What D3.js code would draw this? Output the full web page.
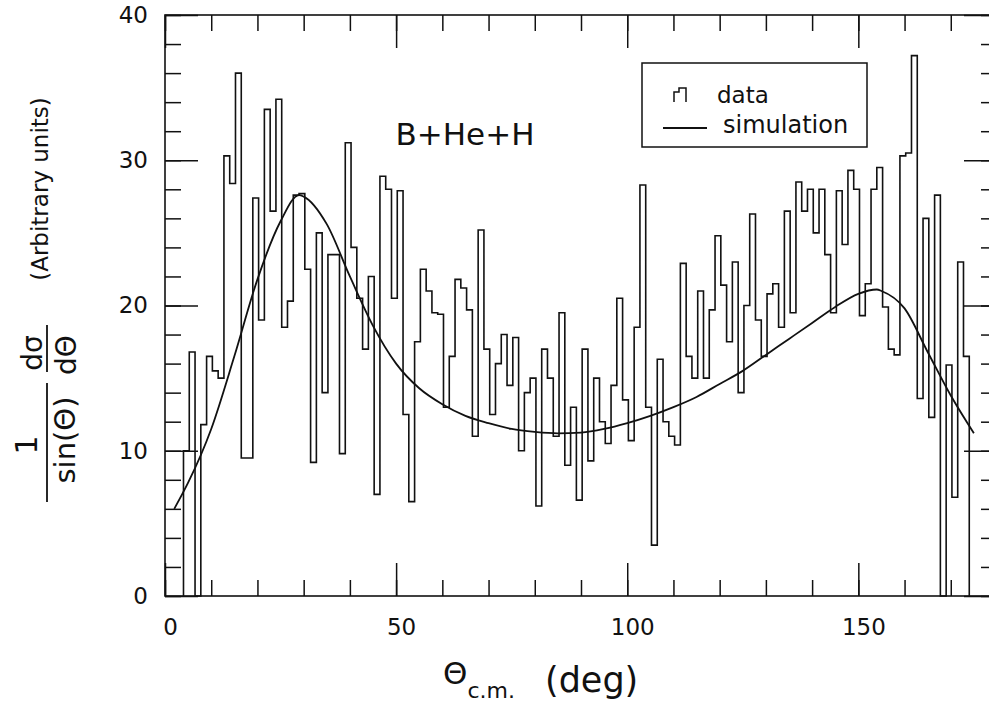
<!DOCTYPE html>
<html><head><meta charset="utf-8">
<script src="https://cdn.jsdelivr.net/npm/d3@7"></script>
<style>
html,body{margin:0;padding:0;background:#fff;}
svg{display:block;}
text{font-family:"DejaVu Sans",sans-serif;fill:#111;}
</style></head><body>
<svg id="chart" width="989" height="709"></svg>
<script>
// Angular distribution: measured histogram (1.25 deg bins) and simulation curve
const binStart = 4.0;
const binWidth = 1.25;
const dataCounts = [
  10, 16.8, 0, 11.8, 16.5, 15.5, 15, 30.3, 28.4, 36,
  9.5, 9.5, 27.4, 19, 33.5, 26.5, 34.2, 18.5, 20.3, 27.6,
  27.7, 22.5, 9.2, 25, 14, 23.5, 23.5, 9.8, 31.2, 24,
  20.5, 17, 22, 7, 28.9, 28, 20.5, 27.9, 12.5, 6.5,
  17.5, 22.5, 21, 19.5, 19.4, 13, 16.5, 21.8, 21.2, 19.7,
  11, 25.2, 17, 12.5, 16, 18, 14.5, 17.8, 10, 14,
  15, 6.2, 17, 15, 11, 19.5, 9, 13, 6.6, 17,
  9.3, 15, 12, 10.5, 14.5, 20.5, 13.5, 10.7, 18.5, 28.3,
  13, 3.5, 16.3, 12, 11, 10.4, 22.9, 16.5, 15, 21,
  15, 19.7, 24.8, 21.4, 17.5, 23, 14, 20, 26.3, 19,
  16.5, 20.8, 21.5, 18.5, 26.5, 19.5, 28.5, 26.5, 28, 25,
  28, 23.5, 19.5, 27.9, 24.2, 29.3, 28, 19.3, 21.5, 28,
  29.5, 19.9, 17, 16.6, 30.3, 30.5, 37.2, 13.6, 26, 12.3,
  27.6, 0, 15.9, 6.8, 23, 16.5
];
const simAngles = [2, 5, 10, 15, 20, 25, 29, 30, 35, 40, 45, 50, 55, 60, 65, 70, 75, 80, 85, 90,
  95, 100, 105, 110, 115, 120, 125, 130, 135, 140, 145, 150, 154, 155, 160, 165, 170, 175];
const simValues = [6.0, 7.8, 11.5, 16.5, 21.8, 25.8, 27.6, 27.5, 25.6, 22.0, 18.6, 16.0, 14.3, 13.2, 12.4, 11.9, 11.5, 11.3, 11.2, 11.25,
  11.5, 11.9, 12.4, 13.0, 13.7, 14.6, 15.5, 16.6, 17.7, 18.8, 19.9, 20.8, 21.1, 21.0, 19.8, 16.8, 13.8, 11.2];
const xTickLabels = [0, 50, 100, 150];
const yTickLabels = [0, 10, 20, 30, 40];
const xMinorTicks = d3.range(0, 181, 10);
const yMinorTicks = d3.range(0, 41, 2);

const svg = d3.select('#chart');
const x = d3.scaleLinear().domain([0, 180]).range([165, 997]);
const y = d3.scaleLinear().domain([0, 40]).range([596, 15]);
const ink = '#111';
const majorLen = 33, minorLen = 16;

// frame
svg.append('rect')
  .attr('x', x(0)).attr('y', y(40))
  .attr('width', x(180) - x(0)).attr('height', y(0) - y(40))
  .attr('fill', 'none').attr('stroke', ink).attr('stroke-width', 1.6);

function styleAxis(g) {
  g.select('.domain').remove();
  g.selectAll('line').attr('stroke', ink).attr('stroke-width', 1.5);
  g.selectAll('text').attr('fill', ink).attr('font-family', '"DejaVu Sans",sans-serif').attr('font-size', 23);
}

// bottom axis
svg.append('g').attr('transform', `translate(0,${y(0)})`)
  .call(d3.axisBottom(x).tickValues(xMinorTicks).tickSize(-minorLen).tickFormat(''))
  .call(styleAxis);
svg.append('g').attr('transform', `translate(0,${y(0)})`)
  .call(d3.axisBottom(x).tickValues(xTickLabels).tickSize(-majorLen).tickPadding(23).tickFormat(d3.format('d')))
  .call(styleAxis)
  .call(g => g.selectAll('text').attr('dx', 5));
// top axis
svg.append('g').attr('transform', `translate(0,${y(40)})`)
  .call(d3.axisTop(x).tickValues(xMinorTicks).tickSize(-minorLen).tickFormat(''))
  .call(styleAxis);
svg.append('g').attr('transform', `translate(0,${y(40)})`)
  .call(d3.axisTop(x).tickValues(xTickLabels).tickSize(-majorLen).tickFormat(''))
  .call(styleAxis);
// left axis
svg.append('g').attr('transform', `translate(${x(0)},0)`)
  .call(d3.axisLeft(y).tickValues(yMinorTicks).tickSize(-minorLen).tickFormat(''))
  .call(styleAxis);
svg.append('g').attr('transform', `translate(${x(0)},0)`)
  .call(d3.axisLeft(y).tickValues(yTickLabels).tickSize(-majorLen).tickPadding(17).tickFormat(d3.format('d')))
  .call(styleAxis);
// right axis
svg.append('g').attr('transform', `translate(${x(180)},0)`)
  .call(d3.axisRight(y).tickValues(yMinorTicks).tickSize(-minorLen).tickFormat(''))
  .call(styleAxis);
svg.append('g').attr('transform', `translate(${x(180)},0)`)
  .call(d3.axisRight(y).tickValues(yTickLabels).tickSize(-majorLen).tickFormat(''))
  .call(styleAxis);

// histogram outline
const edges = dataCounts.map((_, i) => binStart + i * binWidth);
const lastEdge = binStart + dataCounts.length * binWidth;
const histPts = [[edges[0], 0]]
  .concat(dataCounts.map((v, i) => [edges[i], v]))
  .concat([[lastEdge, dataCounts[dataCounts.length - 1]], [lastEdge, 0]]);
svg.append('path')
  .attr('d', d3.line().x(d => x(d[0])).y(d => y(d[1])).curve(d3.curveStepAfter)(histPts))
  .attr('fill', 'none').attr('stroke', ink).attr('stroke-width', 1.6);

// simulation curve
const simPts = simAngles.map((a, i) => [a, simValues[i]]);
svg.append('path')
  .attr('d', d3.line().x(d => x(d[0])).y(d => y(d[1])).curve(d3.curveMonotoneX)(simPts))
  .attr('fill', 'none').attr('stroke', ink).attr('stroke-width', 1.8);

// reaction label
svg.append('text').attr('x', 465).attr('y', 145).attr('text-anchor', 'middle')
  .attr('font-size', 31).text('B+He+H');

// legend
const lg = svg.append('g');
lg.append('rect').attr('x', 642).attr('y', 63).attr('width', 225).attr('height', 84)
  .attr('fill', '#fff').attr('stroke', ink).attr('stroke-width', 1.5);
lg.append('path').attr('d', 'M674,102V92H679V88H686V102')
  .attr('fill', 'none').attr('stroke', ink).attr('stroke-width', 1.5);
lg.append('text').attr('x', 717).attr('y', 103).attr('font-size', 23).text('data');
lg.append('line').attr('x1', 663).attr('x2', 707).attr('y1', 128).attr('y2', 128)
  .attr('stroke', ink).attr('stroke-width', 1.8);
lg.append('text').attr('x', 723).attr('y', 133).attr('font-size', 24).text('simulation');

// x-axis title
const xt = svg.append('text').attr('y', 684).attr('x', 443);
xt.append('tspan').attr('font-size', 31).text('Θ');
xt.append('tspan').attr('font-size', 22).attr('dy', 14).text('c.m.');
svg.append('text').attr('x', 545).attr('y', 692).attr('font-size', 35).text('(deg)');

// y-axis title, rotated
const yt = svg.append('g').attr('transform', 'rotate(-90)');
yt.append('text').attr('x', -445).attr('y', 37).attr('text-anchor', 'middle').attr('font-size', 30).text('1');
yt.append('line').attr('x1', -383).attr('x2', -502).attr('y1', 47).attr('y2', 47)
  .attr('stroke', ink).attr('stroke-width', 1.8);
yt.append('text').attr('x', -440).attr('y', 75).attr('text-anchor', 'middle').attr('font-size', 29).text('sin(Θ)');
yt.append('text').attr('x', -353).attr('y', 42).attr('text-anchor', 'middle').attr('font-size', 28).text('dσ');
yt.append('line').attr('x1', -325).attr('x2', -372).attr('y1', 47).attr('y2', 47)
  .attr('stroke', ink).attr('stroke-width', 1.8);
yt.append('text').attr('x', -355).attr('y', 76).attr('text-anchor', 'middle').attr('font-size', 28).text('dΘ');
yt.append('text').attr('x', -189).attr('y', 48).attr('text-anchor', 'middle').attr('font-size', 23).text('(Arbitrary units)');
</script>
</body></html>
